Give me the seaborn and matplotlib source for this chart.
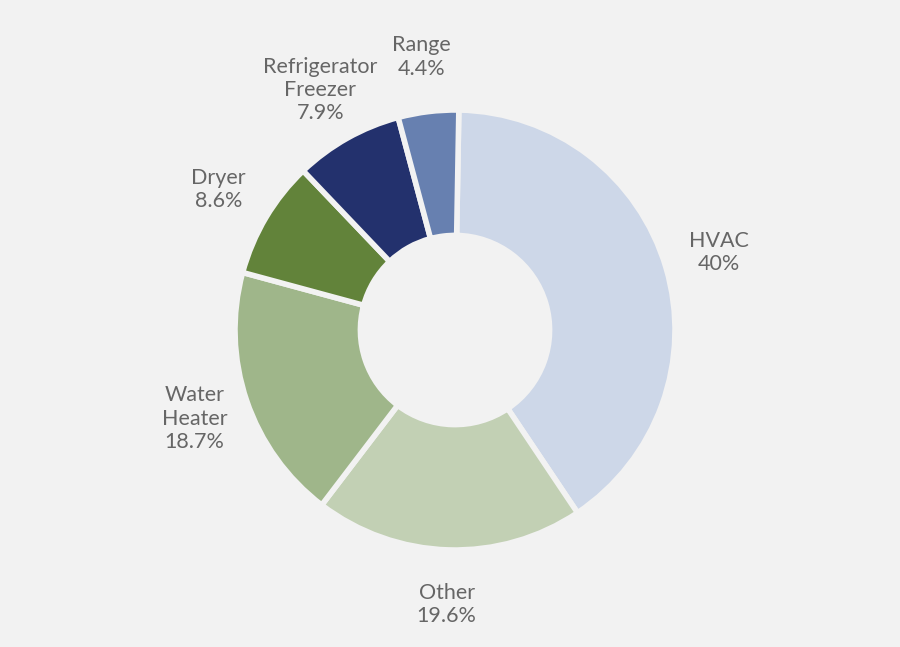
import matplotlib
matplotlib.use("Agg")
import matplotlib.pyplot as plt
import seaborn as sns

categories = ["HVAC", "Other", "Water\nHeater", "Dryer", "Refrigerator\nFreezer", "Range"]
values = [40, 19.6, 18.7, 8.6, 7.9, 4.4]
value_labels = ["40%", "19.6%", "18.7%", "8.6%", "7.9%", "4.4%"]
colors = ["#cdd7e8", "#c2d0b4", "#9fb68a", "#62833a", "#23316d", "#6780b0"]

sns.set_theme(style="white", rc={"figure.facecolor": "#f2f2f2", "axes.facecolor": "#f2f2f2"})
fig = plt.figure(figsize=(9, 6.47), dpi=100)
ax = fig.add_axes([155/900, 17/647, 600/900, 600/647])
labels = [f"{c}\n{v}" for c, v in zip(categories, value_labels)]
wedges, texts = ax.pie(values, colors=colors, startangle=89, counterclock=False,
                       labels=labels, labeldistance=1.25,
                       wedgeprops=dict(width=0.57, edgecolor="#f2f2f2", linewidth=4),
                       textprops=dict(color="#666666", fontsize=15.5, fontfamily="Lato",
                                      linespacing=1.2))
for t in texts:
    t.set_horizontalalignment("center")
    t.set_verticalalignment("center")
lim = 300/220
ax.set_xlim(-lim, lim)
ax.set_ylim(-lim, lim)
ax.set_aspect("equal")
ax.axis("off")
fig.savefig("out.png", dpi=100, facecolor="#f2f2f2")
